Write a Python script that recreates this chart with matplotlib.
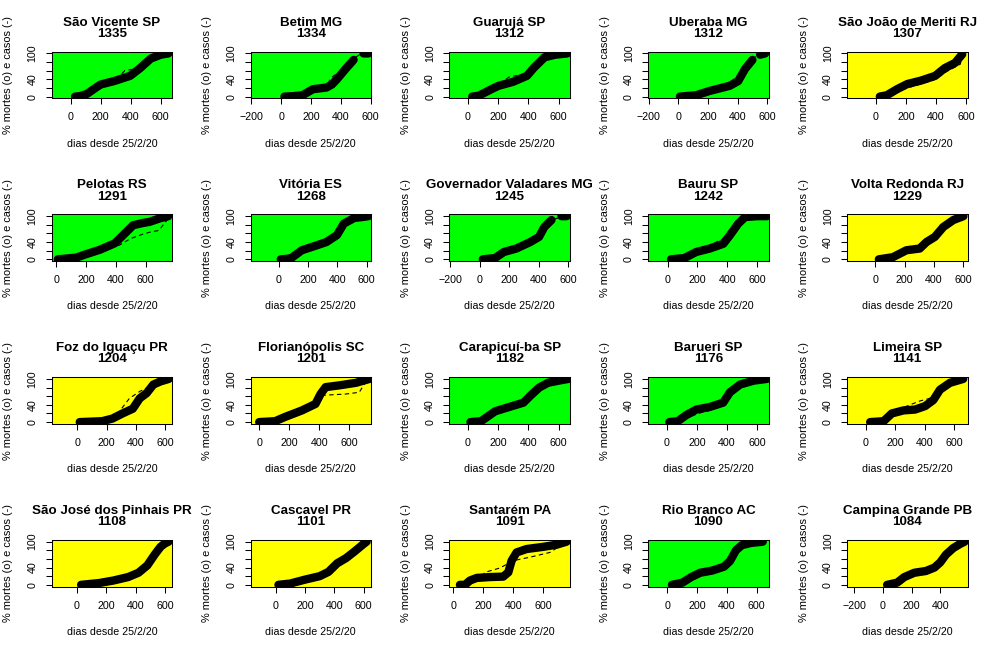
import numpy as np
import matplotlib
matplotlib.use("Agg")
import matplotlib.pyplot as plt
from matplotlib.ticker import MultipleLocator

plt.rcParams['font.family'] = ['Liberation Sans', 'DejaVu Sans']

# dados
cidades = ["São Vicente SP", "Betim MG", "Guarujá SP", "Uberaba MG", "São João de Meriti RJ",
           "Pelotas RS", "Vitória ES", "Governador Valadares MG", "Bauru SP", "Volta Redonda RJ",
           "Foz do Iguaçu PR", "Florianópolis SC", "Carapicuí-ba SP", "Barueri SP", "Limeira SP",
           "São José dos Pinhais PR", "Cascavel PR", "Santarém PA", "Rio Branco AC", "Campina Grande PB"]
numeros = [1335, 1334, 1312, 1312, 1307, 1291, 1268, 1245, 1242, 1229,
           1204, 1201, 1182, 1176, 1141, 1108, 1101, 1091, 1090, 1084]
situacao = ["g", "g", "g", "g", "y", "g", "g", "g", "g", "y",
            "y", "y", "g", "g", "y", "y", "y", "y", "g", "y"]
faixa_x = [(-127, 677), (-205, 602), (-124, 675), (-205, 610), (-192, 610),
           (-30, 780), (-195, 630), (-205, 612), (-131, 679), (-195, 628),
           (-175, 647), (-58, 746), (-124, 675), (-126, 679), (-129, 690),
           (-170, 650), (-170, 650), (-27, 778), (-130, 680), (-250, 590)]

nan = np.nan
mortes_dias = [
    [29, 60, 107, 173, 200, 290, 396, 463, 533, 600, 651],
    [22, 80, 142, 212, 304, 340, 373, 431, 485, nan, 551, 584],
    [28, 70, 110, 160, 203, 297, 390, 437, 507, 577, 658],
    [10, 119, 210, 279, 347, 404, 450, 500, nan, 552, 586],
    [27, 73, 141, 209, 300, 395, 459, 527, 575],
    [11, 135, 202, 292, 393, 438, 517, 580, 629, 697, 753],
    [12, 50, 84, 156, 228, 324, 396, 444, 516, 570, 612],
    [22, 105, 165, 249, 343, 403, 439, 487, nan, 555, 590],
    [23, 113, 192, 283, 374, 419, 475, 521, 600, 668],
    [23, 119, 211, 302, 348, 405, 463, 531, 600],
    [16, 168, 238, 308, 378, 425, 472, 518, 565, 623],
    [0, 106, 173, 285, 375, 409, 443, 533, 645, 735],
    [16, 86, 180, 273, 367, 413, 472, 530, 600, 665],
    [16, 72, 128, 196, 285, 375, 420, 488, 578, 667],
    [29, 120, 176, 255, 334, 402, 458, 503, 571, 661],
    [30, 150, 250, 350, 420, 480, 530, 570, 600, 625],
    [20, 100, 200, 300, 360, 420, 480, 540, 600, 620],
    [44, 78, 111, 156, 244, 333, 367, 389, 422, 489, 600, 689, 756],
    [30, 100, 160, 220, 300, 380, 420, 460, 500, 560, 640],
    [30, 100, 150, 220, 300, 360, 400, 440, 490, 540, 570],
]
mortes_pct = [
    [0, 1, 6, 22, 28, 36, 48, 66, 88, 97, 100],
    [0, 1, 3, 17, 21, 28, 40, 64, 85, nan, 100, 100],
    [0, 2, 9, 18, 25, 34, 48, 67, 91, 97, 100],
    [0, 3, 13, 19, 25, 36, 64, 85, nan, 97, 100],
    [0, 3, 17, 29, 37, 48, 66, 78, 98],
    [0, 4, 12, 22, 37, 52, 79, 84, 87, 95, 100],
    [0, 1, 3, 21, 29, 40, 56, 83, 96, 98, 100],
    [0, 3, 17, 25, 40, 52, 75, 91, nan, 100, 100],
    [0, 3, 17, 25, 36, 56, 83, 98, 100, 100],
    [0, 5, 21, 25, 40, 52, 75, 91, 100],
    [0, 2, 8, 20, 31, 55, 67, 87, 94, 100],
    [0, 2, 12, 27, 42, 65, 81, 85, 91, 100],
    [0, 2, 25, 35, 45, 61, 80, 91, 96, 100],
    [0, 2, 16, 29, 35, 45, 69, 87, 96, 100],
    [0, 2, 20, 27, 29, 37, 51, 75, 91, 100],
    [0, 4, 10, 18, 28, 45, 70, 88, 96, 100],
    [0, 3, 12, 20, 30, 50, 62, 78, 95, 100],
    [0, 0, 10, 16, 18, 19, 29, 56, 75, 83, 88, 93, 100],
    [0, 5, 18, 28, 33, 42, 55, 80, 92, 97, 100],
    [0, 5, 18, 28, 32, 40, 52, 70, 85, 95, 100],
]
casos_dias = [
    [20, 100, 180, 270, 320, 362, 418, 473, 540, 600, 660],
    [20, 140, 210, 300, 340, 380, 430, 480, 520, 590],
    [25, 110, 200, 270, 380, 440, 510, 660],
    [10, 120, 210, 280, 340, 380, 440, 500, 550, 590],
    [27, 100, 159, 230, 316, 383, 472, 562, 580],
    [11, 135, 202, 292, 390, 420, 500, 580, 630, 690, 742, 753],
    [12, 84, 156, 228, 324, 396, 444, 516, 612],
    [22, 105, 165, 249, 343, 403, 439, 487, 560, 590],
    [23, 113, 192, 283, 340, 380, 419, 475, 521, 668],
    [23, 119, 211, 302, 340, 380, 463, 531, 600],
    [16, 168, 238, 285, 355, 425, 472, 518, 565, 623],
    [0, 106, 173, 285, 375, 420, 578, 667, 701, 735],
    [16, 86, 180, 273, 367, 413, 472, 530, 600, 665],
    [16, 72, 128, 218, 285, 353, 420, 488, 578, 667],
    [29, 120, 176, 255, 368, 435, 492, 571, 661],
    [30, 150, 250, 350, 420, 480, 530, 570, 600, 625],
    [20, 100, 200, 300, 380, 420, 480, 540, 600, 620],
    [44, 120, 190, 211, 311, 400, 511, 644, 756],
    [30, 100, 160, 220, 300, 380, 420, 460, 500, 560, 640],
    [30, 100, 150, 220, 300, 360, 400, 440, 490, 540, 570],
]
casos_pct = [
    [0, 5, 24, 35, 45, 61, 63, 73, 92, 98, 100],
    [0, 3, 16, 25, 45, 55, 68, 87, 96, 100],
    [0, 9, 27, 45, 53, 70, 92, 100],
    [0, 3, 13, 19, 27, 42, 62, 88, 97, 100],
    [0, 5, 14, 22, 31, 38, 58, 75, 100],
    [0, 4, 12, 22, 32, 32, 48, 58, 63, 67, 90, 100],
    [0, 2, 18, 28, 40, 57, 82, 92, 100],
    [0, 3, 17, 25, 40, 52, 75, 91, 99, 100],
    [0, 3, 17, 30, 43, 48, 58, 83, 98, 100],
    [0, 5, 19, 28, 45, 52, 73, 90, 100],
    [0, 2, 10, 24, 55, 71, 79, 89, 95, 100],
    [0, 2, 12, 27, 42, 62, 65, 69, 88, 100],
    [0, 2, 25, 35, 45, 61, 80, 91, 96, 100],
    [0, 1, 9, 21, 27, 41, 66, 86, 95, 100],
    [0, 2, 20, 34, 49, 55, 67, 90, 100],
    [0, 4, 10, 18, 28, 45, 70, 88, 96, 100],
    [0, 3, 12, 22, 45, 55, 65, 80, 95, 100],
    [0, 8, 20, 29, 39, 56, 64, 75, 100],
    [0, 5, 18, 28, 33, 42, 55, 80, 92, 97, 100],
    [0, 5, 18, 28, 32, 40, 52, 70, 85, 95, 100],
]

cores = {"g": "#00ff00", "y": "#ffff00"}

W, H = 994, 651
fig = plt.figure(figsize=(W / 100, H / 100), dpi=100)

larg, alt = 120.6, 46.6
for i in range(20):
    lin, col = divmod(i, 5)
    L = 51.7 + col * 198.8
    T = 51.7 + lin * 162.75
    ax = fig.add_axes([L / W, 1 - (T + alt) / H, larg / W, alt / H])
    ax.set_facecolor(cores[situacao[i]])

    # mortes: circulos densos -> faixa grossa; casos: tracejado
    ax.plot(mortes_dias[i], mortes_pct[i], color="black", lw=6,
            solid_capstyle="round", solid_joinstyle="round")
    ax.plot(casos_dias[i], casos_pct[i], color="black", lw=0.8,
            linestyle=(0, (4, 3)))

    ax.set_xlim(faixa_x[i])
    ax.set_ylim(-4, 104)
    ax.xaxis.set_major_locator(MultipleLocator(200))
    ax.set_yticks([0, 20, 40, 60, 80, 100])
    ax.set_yticklabels(["0", "", "40", "", "", "100"], rotation=90, va="center")
    ax.tick_params(length=4.6, width=0.75, labelsize=7.7, pad=5.5)
    for s in ax.spines.values():
        s.set_linewidth(0.75)

    cx = L + larg / 2
    fig.text(cx / W, 1 - (T - 26) / H, cidades[i], ha="center", va="baseline",
             fontsize=9.6, fontweight="bold")
    fig.text(cx / W, 1 - (T - 14.7) / H, str(numeros[i]), ha="center", va="baseline",
             fontsize=9.6, fontweight="bold")
    fig.text(cx / W, 1 - (T + alt + 48.4) / H, "dias desde 25/2/20", ha="center",
             va="baseline", fontsize=7.7)
    fig.text((col * 198.8 + 8.5) / W, 1 - (T + alt / 2) / H, "% mortes (o) e casos (-)",
             ha="center", va="center", rotation=90, fontsize=7.9)

fig.savefig("out.png", dpi=100)
